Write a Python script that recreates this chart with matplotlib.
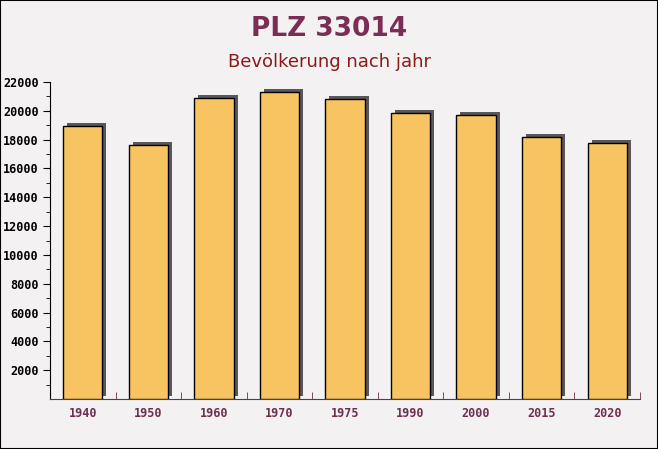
import numpy as np
import matplotlib.pyplot as plt
import matplotlib.transforms as mtransforms

# Daten
jahre = ['1940', '1950', '1960', '1970', '1975', '1990', '2000', '2015', '2020']
einwohner = [18920, 17620, 20880, 21300, 20820, 19850, 19720, 18170, 17780]

# Farben
bg = '#f3f1f2'
bar_clr = '#f8c462'
shadow_clr = '#5b565c'
title_clr = '#7b2d55'
sub_clr = '#8b1a1a'
xtick_clr = '#6e2e50'

fig = plt.figure(figsize=(6.58, 4.49), dpi=100, facecolor=bg)
ax = fig.add_axes([50/658, 50/449, 590/658, 317/449])
ax.set_facecolor('none')

X = np.arange(len(jahre))
w = 0.6

# Schatten (leicht nach rechts oben versetzt)
shift = mtransforms.offset_copy(ax.transData, fig=fig, x=4, y=3, units='dots')
ax.bar(X, einwohner, width=w, color=shadow_clr, transform=shift, zorder=2)

# Balken
ax.bar(X, einwohner, width=w, color=bar_clr, edgecolor='black',
       linewidth=1.0, zorder=3)

# Achsen
ax.set_xlim(-0.5, len(jahre) - 0.5)
ax.set_ylim(0, 22000)
ax.set_yticks(np.arange(2000, 22001, 2000))
ax.set_yticks(np.arange(1000, 22001, 1000), minor=True)
ax.set_xticks(X)
ax.set_xticklabels(jahre)
ax.set_xticks(np.arange(0.5, len(jahre) - 0.4, 1.0), minor=True)

for s in ['top', 'right']:
    ax.spines[s].set_visible(False)
ax.spines['left'].set_color('black')
ax.spines['bottom'].set_color(xtick_clr)

ax.tick_params(axis='y', which='major', length=5, color='black',
               labelsize=8.5, pad=3)
ax.tick_params(axis='y', which='minor', length=3, color='black')
ax.tick_params(axis='x', which='major', length=0, labelsize=8.5,
               labelcolor=xtick_clr, pad=6)
ax.tick_params(axis='x', which='minor', length=5, direction='in',
               color=xtick_clr)

for lbl in ax.get_yticklabels() + ax.get_xticklabels():
    lbl.set_fontfamily('DejaVu Sans Mono')
    lbl.set_fontweight('bold')

# Titel
fig.text(0.5, 0.935, 'PLZ 33014', ha='center', va='center',
         fontsize=19, fontweight='bold', color=title_clr)
fig.text(0.5, 0.862, 'Bevölkerung nach jahr', ha='center', va='center',
         fontsize=13, color=sub_clr)

# Rahmen
fig.patches.append(plt.Rectangle((0, 0), 1, 1, transform=fig.transFigure,
                                 fill=False, edgecolor='black', linewidth=1.5))

plt.savefig('out.png', dpi=100, facecolor=bg)
